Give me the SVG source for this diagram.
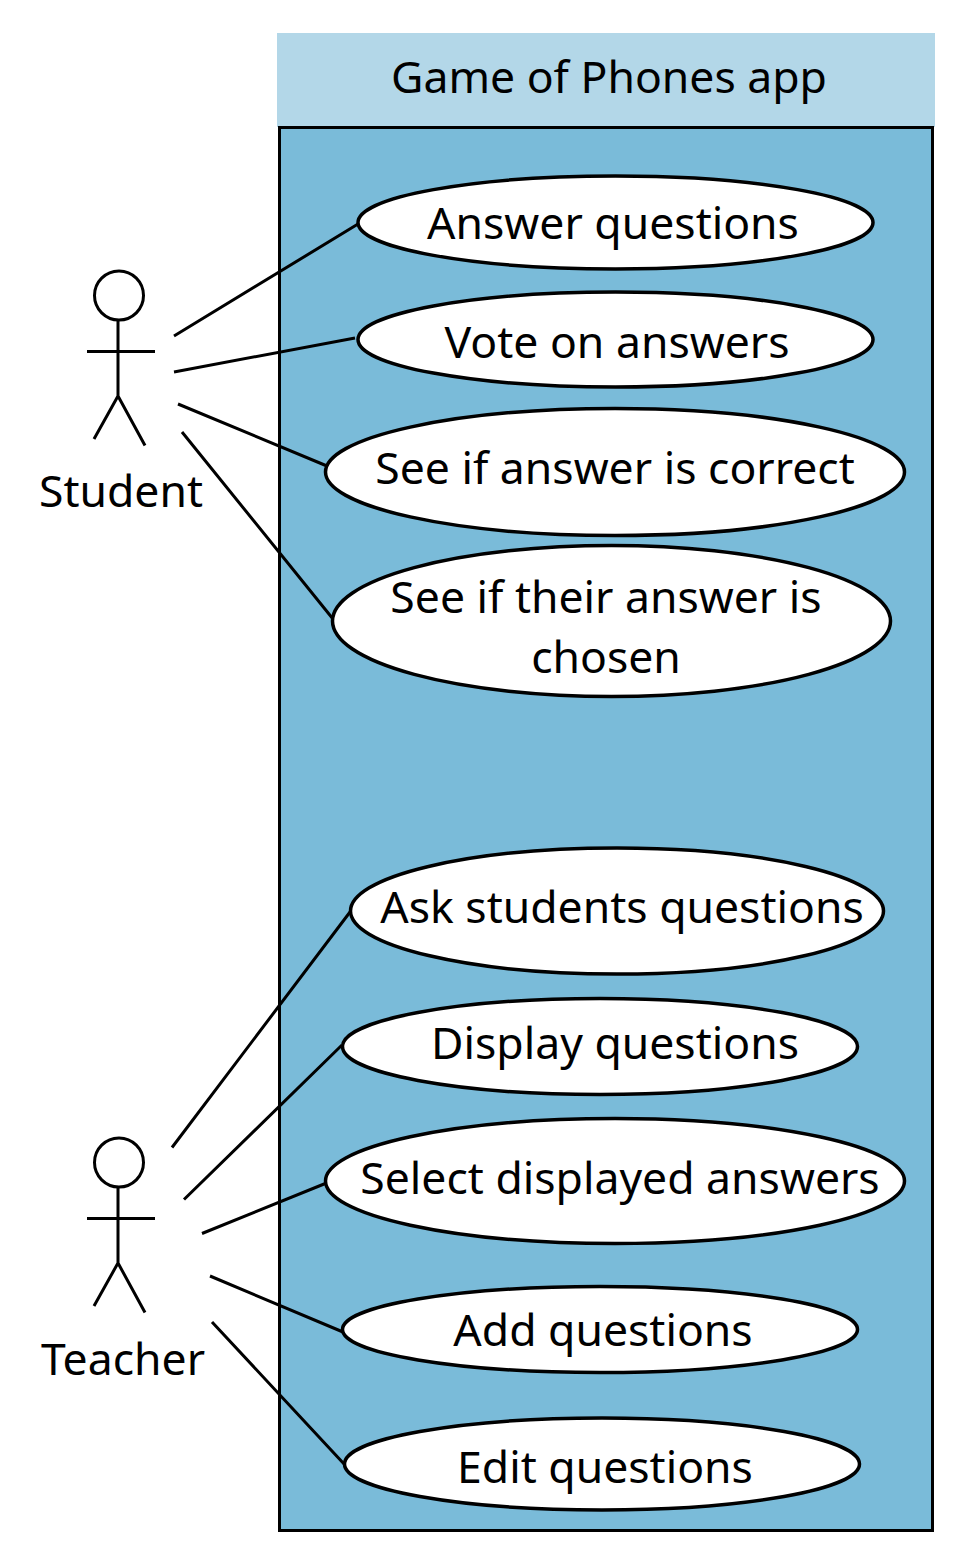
<svg xmlns="http://www.w3.org/2000/svg" width="968" height="1564" viewBox="0 0 968 1564">
<style>
text{font-family:"Noto Sans","Open Sans",sans-serif;font-size:44.500px;fill:#000;text-anchor:middle}
.u{fill:#fff;stroke:#000;stroke-width:3.500}
.l{fill:none;stroke:#000;stroke-width:3}
</style>
<rect width="968" height="1564" fill="#fff"/>
<g id="system">
<rect x="277" y="33" width="658" height="94" fill="#b3d7e8"/>
<rect x="279.500" y="127.500" width="653" height="1403" fill="#7abbd9" stroke="#000" stroke-width="3"/>
<text x="609" y="93">Game of Phones app</text>
</g>
<g id="connectors" class="l">
<path d="M174 336L358 224M174 372L355 338M178 404L327 466M182 432L333 619M172 1147.500L350 912M184 1199.500L342 1045M202 1233.500L329 1182M210 1276L343 1332M212 1322L345 1465"/>
</g>
<g id="student" class="l">
<circle cx="119" cy="295.500" r="24.500"/>
<path d="M118 320V396M87 351.500H155M118 396L94 439M118 396L145 445.500"/>
<text x="121" y="507" stroke="none" fill="#000">Student</text>
</g>
<g id="teacher" class="l">
<circle cx="119" cy="1162.500" r="24.500"/>
<path d="M118 1187V1263M87 1218.500H155M118 1263L94 1306M118 1263L145 1312.500"/>
<text x="123" y="1375" stroke="none" fill="#000">Teacher</text>
</g>
<g id="uc1"><ellipse class="u" cx="615.500" cy="222.500" rx="257.500" ry="46.500"/><text x="613" y="239">Answer questions</text></g>
<g id="uc2"><ellipse class="u" cx="615.500" cy="339.500" rx="257.500" ry="47.500"/><text x="617" y="358">Vote on answers</text></g>
<g id="uc3"><ellipse class="u" cx="615" cy="472" rx="289.500" ry="63.500"/><text x="615" y="484">See if answer is correct</text></g>
<g id="uc4"><ellipse class="u" cx="611.500" cy="621" rx="279" ry="75.500"/><text x="606" y="613">See if their answer is</text><text x="606" y="673">chosen</text></g>
<g id="uc5"><ellipse class="u" cx="617" cy="911" rx="266.500" ry="63"/><text x="622" y="923">Ask students questions</text></g>
<g id="uc6"><ellipse class="u" cx="600" cy="1046.500" rx="257.500" ry="48"/><text x="615" y="1059">Display questions</text></g>
<g id="uc7"><ellipse class="u" cx="615" cy="1181" rx="289.500" ry="62.500"/><text x="620" y="1194">Select displayed answers</text></g>
<g id="uc8"><ellipse class="u" cx="600" cy="1329.500" rx="257.500" ry="43"/><text x="603" y="1346">Add questions</text></g>
<g id="uc9"><ellipse class="u" cx="602" cy="1464" rx="257.500" ry="46"/><text x="605" y="1483">Edit questions</text></g>
</svg>
